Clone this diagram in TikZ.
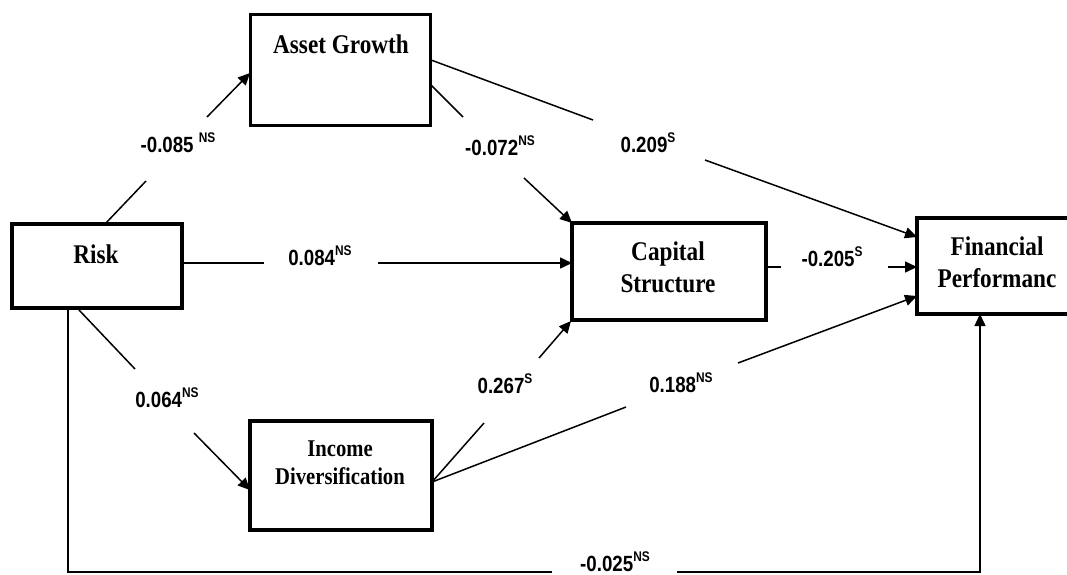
\documentclass[tikz,border=0pt]{standalone}
\usepackage{fontspec}
\newfontfamily\boxfont[FakeStretch=0.86]{Liberation Serif}
\newfontfamily\numfont[FakeStretch=0.85]{Liberation Sans}
\usetikzlibrary{arrows.meta}
\newcommand\supx[1]{\raisebox{10pt}{\fontsize{14}{14}\selectfont #1}}
\tikzset{
  boxn/.style={draw, line width=3.4pt, rectangle, inner sep=0pt},
  btext/.style={font=\boxfont\bfseries\fontsize{27}{32}\selectfont, anchor=base, inner sep=0pt},
  btextsm/.style={font=\boxfont\bfseries\fontsize{24}{28}\selectfont, anchor=base, inner sep=0pt},
  lbl/.style={font=\numfont\bfseries\fontsize{22}{24}\selectfont, anchor=base, inner sep=0pt},
  conn/.style={line width=1.5pt},
  arr/.style={conn, -{Triangle[length=12pt,width=11pt]}}
}
\begin{document}
\begin{tikzpicture}[x=1pt,y=-1pt]
\useasboundingbox (0,0) rectangle (1067,574);
\clip (0,0) rectangle (1067,574);

% boxes
\node[boxn, minimum width=180pt, minimum height=111pt] (ag) at (340.5,70) {};
\node[boxn, minimum width=170pt, minimum height=84pt] (risk) at (97,266) {};
\node[boxn, minimum width=194pt, minimum height=97pt] (cap) at (669,271.5) {};
\node[boxn, minimum width=160pt, minimum height=96pt] (fin) at (997,266) {};
\node[boxn, minimum width=182pt, minimum height=109pt] (inc) at (341,475.5) {};

% box texts
\node[btext] (agt) at (341,53) {Asset Growth};
\node[btext] (riskt) at (96,263) {Risk};
\node[btext] (capt1) at (668,260) {Capital};
\node[btext] (capt2) at (668,292) {Structure};
\node[btext] (fint1) at (997,255) {Financial};
\node[btext] (fint2) at (997,287) {Performanc};
\node[btextsm] (inct1) at (340,456) {Income};
\node[btextsm] (inct2) at (340,484) {Diversification};

% labels
\node[lbl] (l1) at (178,152) {-0.085 \supx{NS}};
\node[lbl] (l2) at (500,155) {-0.072\supx{NS}};
\node[lbl] (l3) at (648,152) {0.209\supx{S}};
\node[lbl] (l4) at (320,265) {0.084\supx{NS}};
\node[lbl] (l5) at (832,266) {-0.205\supx{S}};
\node[lbl] (l6) at (167,407) {0.064\supx{NS}};
\node[lbl] (l7) at (505,393) {0.267\supx{S}};
\node[lbl] (l8) at (681,392) {0.188\supx{NS}};
\node[lbl] (l9) at (615,571) {-0.025\supx{NS}};

% connector points
\coordinate (r1s) at (105,224);
\coordinate (g1a) at (146,181);
\coordinate (g1b) at (207,117);
\coordinate (ag1e) at (250,73);

\coordinate (ag2s) at (431,85);
\coordinate (g2a) at (463,117);
\coordinate (g2b) at (524,178);
\coordinate (captl) at (572,223);

\coordinate (ag3s) at (431,60);
\coordinate (g3a) at (593,120);
\coordinate (g3b) at (705,160);
\coordinate (fin1) at (917,237);

\coordinate (r4s) at (182,263);
\coordinate (g4a) at (264,263);
\coordinate (g4b) at (378,263);
\coordinate (capl) at (572,263);

\coordinate (cap5s) at (766,267);
\coordinate (g5a) at (781,267);
\coordinate (g5b) at (888,267);
\coordinate (fin2) at (917,267);

\coordinate (r6s) at (79,310);
\coordinate (g6a) at (135,369);
\coordinate (g6b) at (194,433);
\coordinate (inc6e) at (250,490);

\coordinate (incr) at (432,482);
\coordinate (g7a) at (484,423);
\coordinate (g7b) at (539,358);
\coordinate (capbl) at (571,321);

\coordinate (g8a) at (626,407);
\coordinate (g8b) at (738,363);
\coordinate (fin3) at (917,296);

\coordinate (rb) at (68,308);
\coordinate (g9a) at (552,572);
\coordinate (g9b) at (677,572);
\coordinate (fb) at (980,314);

% connectors
\draw[conn] (r1s) -- (g1a);
\draw[arr] (g1b) -- (ag1e);

\draw[conn] (ag2s) -- (g2a);
\draw[arr] (g2b) -- (captl);

\draw[conn] (ag3s) -- (g3a);
\draw[arr] (g3b) -- (fin1);

\draw[conn] (r4s) -- (g4a);
\draw[arr] (g4b) -- (capl);

\draw[conn] (cap5s) -- (g5a);
\draw[arr] (g5b) -- (fin2);

\draw[conn] (r6s) -- (g6a);
\draw[arr] (g6b) -- (inc6e);

\draw[conn] (incr) -- (g7a);
\draw[arr] (g7b) -- (capbl);

\draw[conn] (incr) -- (g8a);
\draw[arr] (g8b) -- (fin3);

\draw[conn] (rb) |- (g9a);
\draw[arr] (g9b) -| (fb);
\end{tikzpicture}
\end{document}
